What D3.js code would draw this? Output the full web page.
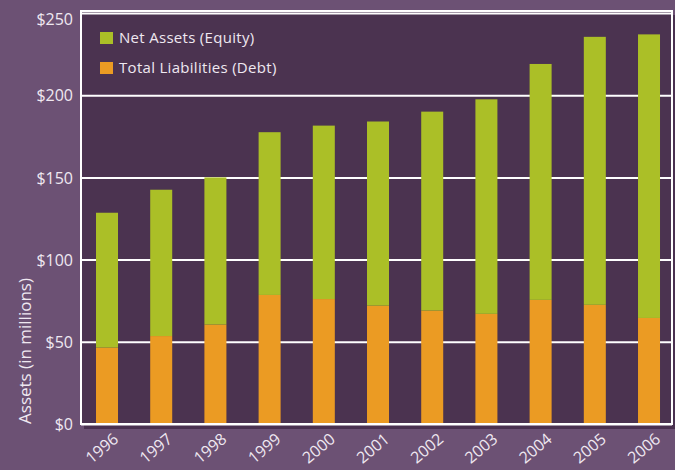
<!DOCTYPE html>
<html>
<head>
<meta charset="utf-8">
<script src="https://cdn.jsdelivr.net/npm/d3@7"></script>
<style>
  body { margin: 0; background: #6c5174; }
  text { font-family: "Open Sans", Lato, sans-serif; fill: #efe8f1; }
</style>
</head>
<body>
<div id="chart"></div>
<script>
const years = ["1996", "1997", "1998", "1999", "2000", "2001", "2002", "2003", "2004", "2005", "2006"];
const liabilities = [46.5, 53.5, 60.5, 78.5, 76, 72, 69, 67, 75.5, 72.5, 64.5];
const netAssets = [82, 89, 89.5, 99, 105.5, 112, 121, 130.5, 143.5, 163, 172.5];
const yTicks = [0, 50, 100, 150, 200, 250];
const seriesNames = ["Net Assets (Equity)", "Total Liabilities (Debt)"];

let width = 675,
    height = 470,
    plot = { left: 81, right: 672, top: 11, bottom: 424 };

const colors = { equity: "#abbf27", debt: "#eb9b23" };

const svg = d3.select("#chart")
  .append("svg")
  .attr("width", width)
  .attr("height", height)
  .attr("viewBox", [0, 0, width, height]);

const rows = years.map((yr, i) => ({ year: yr, debt: liabilities[i], equity: netAssets[i] }));
const stacked = d3.stack().keys(["debt", "equity"])(rows);

let x = d3.scaleBand()
  .domain(years)
  .range([plot.left, plot.right])
  .paddingInner(0.594)
  .paddingOuter(0.249)
  .align(0.556);

let y = d3.scaleLinear()
  .domain([0, 250])
  .range([plot.bottom, 13]);

// drop shadow + plot background
svg.append("rect")
  .attr("x", plot.left + 3).attr("y", plot.top + 4)
  .attr("width", plot.right - plot.left).attr("height", plot.bottom - plot.top + 1)
  .attr("fill", "#4a3150");

svg.append("rect")
  .attr("x", plot.left).attr("y", plot.top)
  .attr("width", plot.right - plot.left).attr("height", plot.bottom - plot.top)
  .attr("fill", "#4b3350");

// gridlines and dollar labels
const yAxis = svg.append("g")
  .attr("transform", `translate(${plot.left},0)`)
  .call(d3.axisLeft(y)
    .tickValues(yTicks)
    .tickSize(-(plot.right - plot.left))
    .tickPadding(8)
    .tickFormat(d => "$" + d));

yAxis.select(".domain").remove();
yAxis.selectAll("line").attr("stroke", "#ffffff").attr("stroke-width", 2);
yAxis.selectAll("text")
  .attr("font-size", 16)
  .style("font-family", "'Open Sans', sans-serif")
  .attr("fill", "#efe8f1")
  .attr("dy", d => d === 250 ? "0.7em" : "0.35em");

// bars
svg.append("g")
  .selectAll("g")
  .data(stacked)
  .join("g")
    .attr("fill", d => colors[d.key])
  .selectAll("rect")
  .data(d => d)
  .join("rect")
    .attr("x", d => x(d.data.year))
    .attr("y", d => y(d[1]))
    .attr("height", d => y(d[0]) - y(d[1]))
    .attr("width", x.bandwidth());

// white frame
svg.append("rect")
  .attr("x", plot.left).attr("y", plot.top)
  .attr("width", plot.right - plot.left).attr("height", plot.bottom - plot.top)
  .attr("fill", "none")
  .attr("stroke", "#ffffff")
  .attr("stroke-width", 2);

// year labels, slanted
svg.append("g")
  .selectAll("text")
  .data(years)
  .join("text")
    .attr("transform", d => `translate(${x(d) + x.bandwidth() / 2 + 5},${plot.bottom + 8}) rotate(-40)`)
    .attr("text-anchor", "end")
    .attr("dy", "0.72em")
    .attr("font-size", 16)
    .text(d => d);

// y title
svg.append("text")
  .attr("transform", "translate(31,351) rotate(-90)")
  .attr("text-anchor", "middle")
  .attr("font-size", 17)
  .text("Assets (in millions)");

// legend
const legend = svg.append("g")
  .attr("transform", "translate(100,32)");

legend.selectAll("rect")
  .data(seriesNames)
  .join("rect")
    .attr("x", 0)
    .attr("y", (d, i) => i * 30)
    .attr("width", 13)
    .attr("height", 12)
    .attr("fill", (d, i) => i === 0 ? colors.equity : colors.debt);

legend.selectAll("text")
  .data(seriesNames)
  .join("text")
    .attr("x", 19)
    .attr("y", (d, i) => i * 30 + 6)
    .attr("dy", "0.35em")
    .attr("font-size", 15)
    .attr("letter-spacing", 0.3)
    .text(d => d);
</script>
</body>
</html>
